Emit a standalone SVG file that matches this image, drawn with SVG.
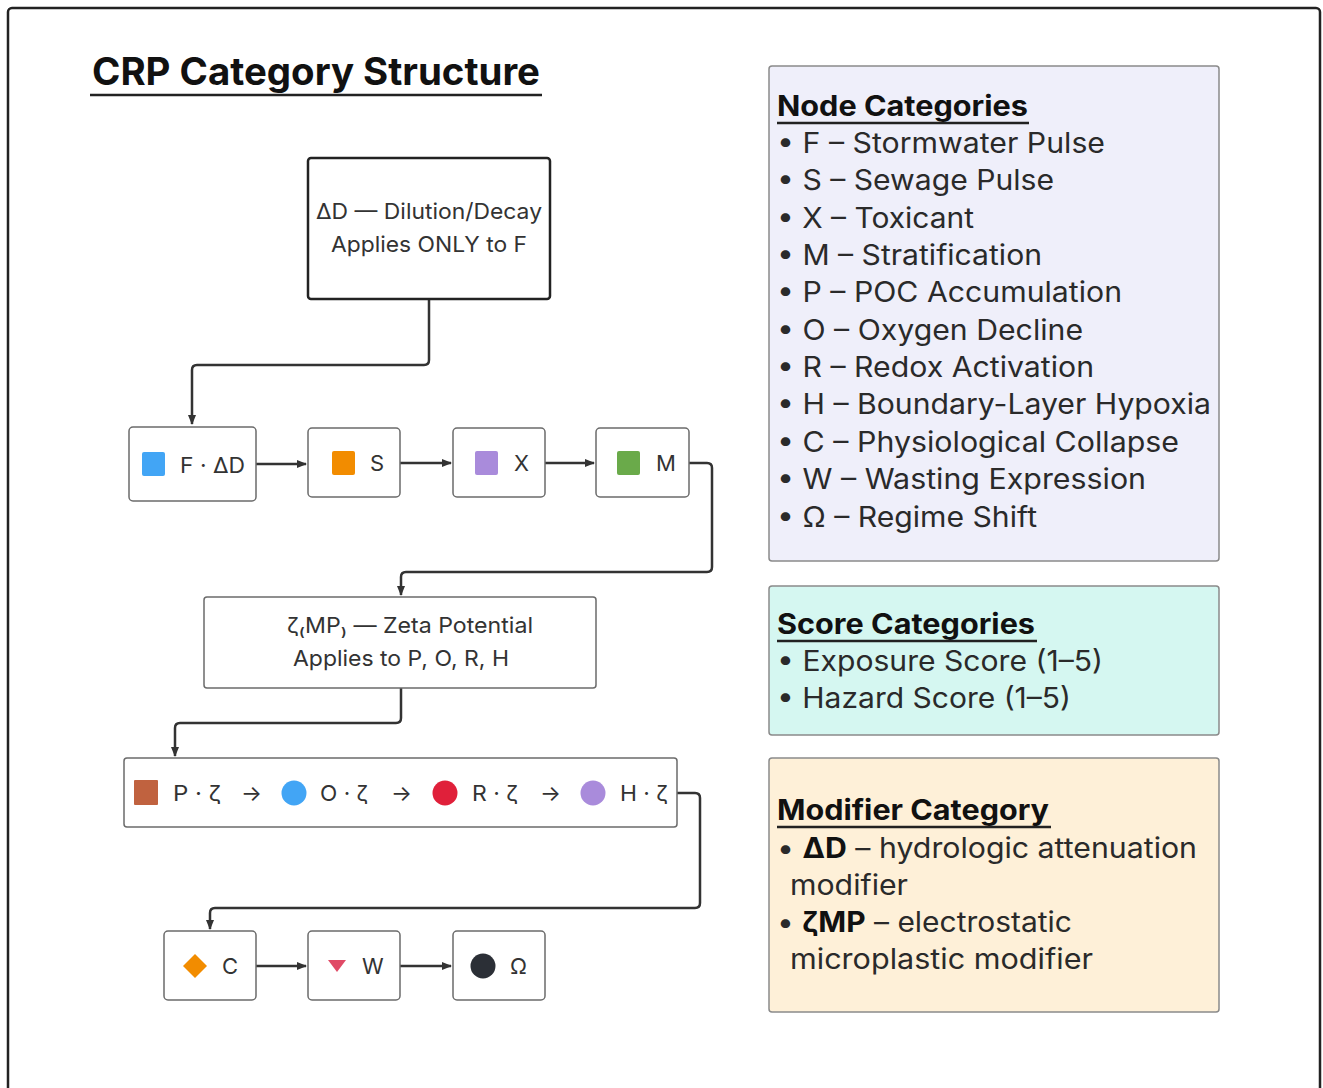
<svg xmlns="http://www.w3.org/2000/svg" width="1323" height="1088" viewBox="0 0 1323 1088">
<defs>
<marker id="ah" viewBox="0 0 10 10" refX="9" refY="5" markerWidth="4" markerHeight="4" orient="auto" markerUnits="strokeWidth">
<path d="M0,1 L10,5 L0,9 z" fill="#333"/>
</marker>
<style>
.t{font-family:Inter,"Liberation Sans",sans-serif;fill:#333}
.node{fill:#fff;stroke:#6b6b6b;stroke-width:1.5}
.big{fill:#fff;stroke:#222;stroke-width:2.5}
.lbl{font-size:22px}
.leg{font-family:Inter,"Liberation Sans",sans-serif;font-size:28px;fill:#2a2a2a}
.legh{font-family:Inter,"Liberation Sans",sans-serif;font-size:28px;font-weight:bold;fill:#111}
.ul{stroke:#222;stroke-width:2.5}
.conn{fill:none;stroke:#333;stroke-width:2.5;stroke-linejoin:round}
.panel{stroke:#8a8a8a;stroke-width:1.5}
</style>
</defs>
<rect width="1323" height="1088" fill="#fff"/>
<rect x="8" y="8" width="1312" height="1110" rx="4" fill="none" stroke="#222" stroke-width="2.5"/>

<g id="title">
<text x="92" y="85" font-family="Inter,'Liberation Sans',sans-serif" font-size="38" font-weight="bold" fill="#111" textLength="448" lengthAdjust="spacingAndGlyphs">CRP Category Structure</text>
<line x1="90" y1="95" x2="542" y2="95" class="ul" stroke-width="3"/>
</g>

<g id="connectors">
<path class="conn" d="M429,299 V360 Q429,365 424,365 H197 Q192,365 192,370 V424" marker-end="url(#ah)"/>
<line class="conn" x1="256" y1="464" x2="306" y2="464" marker-end="url(#ah)"/>
<line class="conn" x1="400" y1="463" x2="451" y2="463" marker-end="url(#ah)"/>
<line class="conn" x1="545" y1="463" x2="594" y2="463" marker-end="url(#ah)"/>
<path class="conn" d="M689,463 H707 Q712,463 712,468 V567 Q712,572 707,572 H406 Q401,572 401,577 V595" marker-end="url(#ah)"/>
<path class="conn" d="M401,688 V718 Q401,723 396,723 H180 Q175,723 175,728 V756" marker-end="url(#ah)"/>
<path class="conn" d="M677,793 H695 Q700,793 700,798 V903 Q700,908 695,908 H215 Q210,908 210,913 V929" marker-end="url(#ah)"/>
<line class="conn" x1="256" y1="966" x2="306" y2="966" marker-end="url(#ah)"/>
<line class="conn" x1="400" y1="966" x2="451" y2="966" marker-end="url(#ah)"/>
</g>

<g id="node-dD">
<rect class="big" x="308" y="158" width="242" height="141" rx="3"/>
<text class="t lbl" x="316" y="219" fill="#222" textLength="226" lengthAdjust="spacingAndGlyphs">ΔD — Dilution/Decay</text>
<text class="t lbl" x="331" y="252" fill="#222" textLength="196" lengthAdjust="spacingAndGlyphs">Applies ONLY to F</text>
</g>

<g id="node-F">
<rect class="node" x="129" y="427" width="127" height="74" rx="4"/>
<rect x="142" y="452" width="23" height="24" rx="2" fill="#42A5F5"/>
<text class="t lbl" x="180" y="473" textLength="65" lengthAdjust="spacingAndGlyphs">F · ΔD</text>
</g>
<g id="node-S">
<rect class="node" x="308" y="428" width="92" height="69" rx="4"/>
<rect x="332" y="451" width="23" height="24" rx="2" fill="#F28C00"/>
<text class="t lbl" x="370" y="471">S</text>
</g>
<g id="node-X">
<rect class="node" x="453" y="428" width="92" height="69" rx="4"/>
<rect x="475" y="451" width="23" height="24" rx="2" fill="#A98BDB"/>
<text class="t lbl" x="514" y="471">X</text>
</g>
<g id="node-M">
<rect class="node" x="596" y="428" width="93" height="69" rx="4"/>
<rect x="617" y="451" width="23" height="24" rx="2" fill="#6AAA4A"/>
<text class="t lbl" x="656" y="471">M</text>
</g>

<g id="node-zeta">
<rect class="node" x="204" y="597" width="392" height="91" rx="3"/>
<text class="t lbl" x="287" y="633" textLength="246" lengthAdjust="spacingAndGlyphs">ζ₍MP₎ — Zeta Potential</text>
<text class="t lbl" x="293" y="666" textLength="216" lengthAdjust="spacingAndGlyphs">Applies to P, O, R, H</text>
</g>

<g id="node-PORH">
<rect class="node" x="124" y="758" width="553" height="69" rx="3"/>
<rect x="134" y="780" width="24" height="25" rx="1" fill="#C0623F"/>
<text class="t lbl" x="173" y="801" textLength="48" lengthAdjust="spacingAndGlyphs">P · ζ</text>
<text class="t lbl" x="241" y="801">→</text>
<circle cx="294" cy="793" r="12.5" fill="#42A5F5"/>
<text class="t lbl" x="320" y="801" textLength="48" lengthAdjust="spacingAndGlyphs">O · ζ</text>
<text class="t lbl" x="391" y="801">→</text>
<circle cx="445" cy="793" r="12.5" fill="#E0203A"/>
<text class="t lbl" x="472" y="801" textLength="46" lengthAdjust="spacingAndGlyphs">R · ζ</text>
<text class="t lbl" x="540" y="801">→</text>
<circle cx="593" cy="793" r="12.5" fill="#A98BDB"/>
<text class="t lbl" x="620" y="801" textLength="48" lengthAdjust="spacingAndGlyphs">H · ζ</text>
</g>

<g id="node-C">
<rect class="node" x="164" y="931" width="92" height="69" rx="4"/>
<path d="M195,954 L207,966 L195,978 L183,966 z" fill="#F28C00"/>
<text class="t lbl" x="222" y="974">C</text>
</g>
<g id="node-W">
<rect class="node" x="308" y="931" width="92" height="69" rx="4"/>
<path d="M328,960 L346,960 L337,972 z" fill="#E04A66"/>
<text class="t lbl" x="362" y="974">W</text>
</g>
<g id="node-Omega">
<rect class="node" x="453" y="931" width="92" height="69" rx="4"/>
<circle cx="483" cy="966" r="12.5" fill="#2B2F36"/>
<text class="t lbl" x="510" y="974">Ω</text>
</g>

<g id="legend-nodes">
<rect class="panel" x="769" y="66" width="450" height="495" rx="3" fill="#EFEFFA"/>
<text class="legh" x="777" y="116" textLength="251" lengthAdjust="spacingAndGlyphs">Node Categories</text>
<line class="ul" x1="777" y1="123" x2="1029" y2="123"/>
<text class="leg" x="777" y="153" textLength="328" lengthAdjust="spacingAndGlyphs">• F – Stormwater Pulse</text>
<text class="leg" x="777" y="190" textLength="277" lengthAdjust="spacingAndGlyphs">• S – Sewage Pulse</text>
<text class="leg" x="777" y="228" textLength="197" lengthAdjust="spacingAndGlyphs">• X – Toxicant</text>
<text class="leg" x="777" y="265" textLength="265" lengthAdjust="spacingAndGlyphs">• M – Stratification</text>
<text class="leg" x="777" y="302" textLength="345" lengthAdjust="spacingAndGlyphs">• P – POC Accumulation</text>
<text class="leg" x="777" y="340" textLength="306" lengthAdjust="spacingAndGlyphs">• O – Oxygen Decline</text>
<text class="leg" x="777" y="377" textLength="317" lengthAdjust="spacingAndGlyphs">• R – Redox Activation</text>
<text class="leg" x="777" y="414" textLength="434" lengthAdjust="spacingAndGlyphs">• H – Boundary-Layer Hypoxia</text>
<text class="leg" x="777" y="452" textLength="402" lengthAdjust="spacingAndGlyphs">• C – Physiological Collapse</text>
<text class="leg" x="777" y="489" textLength="369" lengthAdjust="spacingAndGlyphs">• W – Wasting Expression</text>
<text class="leg" x="777" y="527" textLength="260" lengthAdjust="spacingAndGlyphs">• Ω – Regime Shift</text>
</g>

<g id="legend-scores">
<rect class="panel" x="769" y="586" width="450" height="149" rx="3" fill="#D5F7F1"/>
<text class="legh" x="777" y="634" textLength="258" lengthAdjust="spacingAndGlyphs">Score Categories</text>
<line class="ul" x1="777" y1="641" x2="1037" y2="641"/>
<text class="leg" x="777" y="671" textLength="326" lengthAdjust="spacingAndGlyphs">• Exposure Score (1–5)</text>
<text class="leg" x="777" y="708" textLength="294" lengthAdjust="spacingAndGlyphs">• Hazard Score (1–5)</text>
</g>

<g id="legend-modifiers">
<rect class="panel" x="769" y="758" width="450" height="254" rx="3" fill="#FEF0D8"/>
<text class="legh" x="777" y="820" textLength="272" lengthAdjust="spacingAndGlyphs">Modifier Category</text>
<line class="ul" x1="777" y1="827" x2="1051" y2="827"/>
<text class="leg" x="777" y="858" textLength="420" lengthAdjust="spacingAndGlyphs">• <tspan font-weight="bold" fill="#111">ΔD</tspan> – hydrologic attenuation</text>
<text class="leg" x="790" y="895" textLength="118" lengthAdjust="spacingAndGlyphs">modifier</text>
<text class="leg" x="777" y="932" textLength="295" lengthAdjust="spacingAndGlyphs">• <tspan font-weight="bold" fill="#111">ζMP</tspan> – electrostatic</text>
<text class="leg" x="790" y="969" textLength="303" lengthAdjust="spacingAndGlyphs">microplastic modifier</text>
</g>
</svg>
